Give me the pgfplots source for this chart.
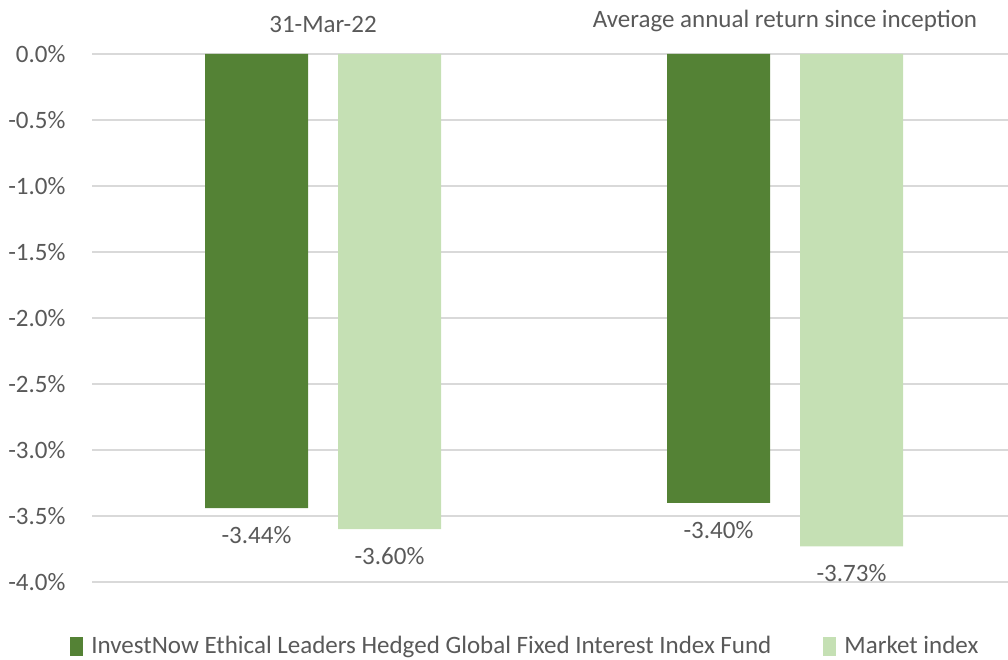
\documentclass[border=0pt]{standalone}
\usepackage{fontspec}
\setmainfont{Carlito}
\usepackage{pgfplots}
\pgfplotsset{compat=1.18}
\definecolor{dg}{HTML}{548235}
\definecolor{lg}{HTML}{C5E0B4}
\definecolor{tx}{HTML}{595959}
\definecolor{gr}{HTML}{D9D9D9}
\begin{document}
\fontsize{25pt}{30pt}\selectfont
\begin{tikzpicture}
\path[use as bounding box] (0,0) rectangle (1008pt,659pt);
\begin{axis}[
  at={(92pt,77pt)}, anchor=south west,
  scale only axis, width=924pt, height=528pt,
  xmin=-0.5, xmax=1.5, ymin=-4, ymax=0,
  ybar=30pt, bar width=103pt,
  axis line style={draw=none},
  tick style={draw=none},
  ymajorgrids, major grid style={gr, line width=1.5pt},
  ytick={-4,-3.5,-3,-2.5,-2,-1.5,-1,-0.5,0},
  yticklabel={\pgfmathprintnumber[fixed,fixed zerofill,precision=1]{\tick}\%},
  xtick={0,1},
  xticklabels={31-Mar-22, Average annual return since inception},
  xticklabel pos=upper,
  x tick label style={yshift=9pt},
  y tick label style={xshift=-18pt},
  ticklabel style={text=tx, font=\fontsize{25pt}{30pt}\selectfont},
  /pgf/number format/assume math mode=true,
  nodes near coords={\pgfmathprintnumber[fixed,fixed zerofill,precision=2]{\pgfplotspointmeta}\%},
  every node near coord/.append style={anchor=north, yshift=-10pt, text=tx, font=\fontsize{25pt}{30pt}\selectfont},
  legend style={at={(axis description cs:0.469,-0.122)}, anchor=center, draw=none,
    legend columns=2, text=tx, font=\fontsize{25pt}{30pt}\selectfont,
    /tikz/every odd column/.append style={column sep=6pt},
    /tikz/every even column/.append style={column sep=50pt}},
  legend image code/.code={\fill[#1,draw=none] (0pt,-10pt) rectangle (13pt,9pt);},
]
\addplot[fill=dg, draw=none] coordinates {(0,-3.44) (1,-3.40)};
\addplot[fill=lg, draw=none] coordinates {(0,-3.60) (1,-3.73)};
\legend{InvestNow Ethical Leaders Hedged Global Fixed Interest Index Fund, Market index}
\end{axis}
\end{tikzpicture}
\end{document}
